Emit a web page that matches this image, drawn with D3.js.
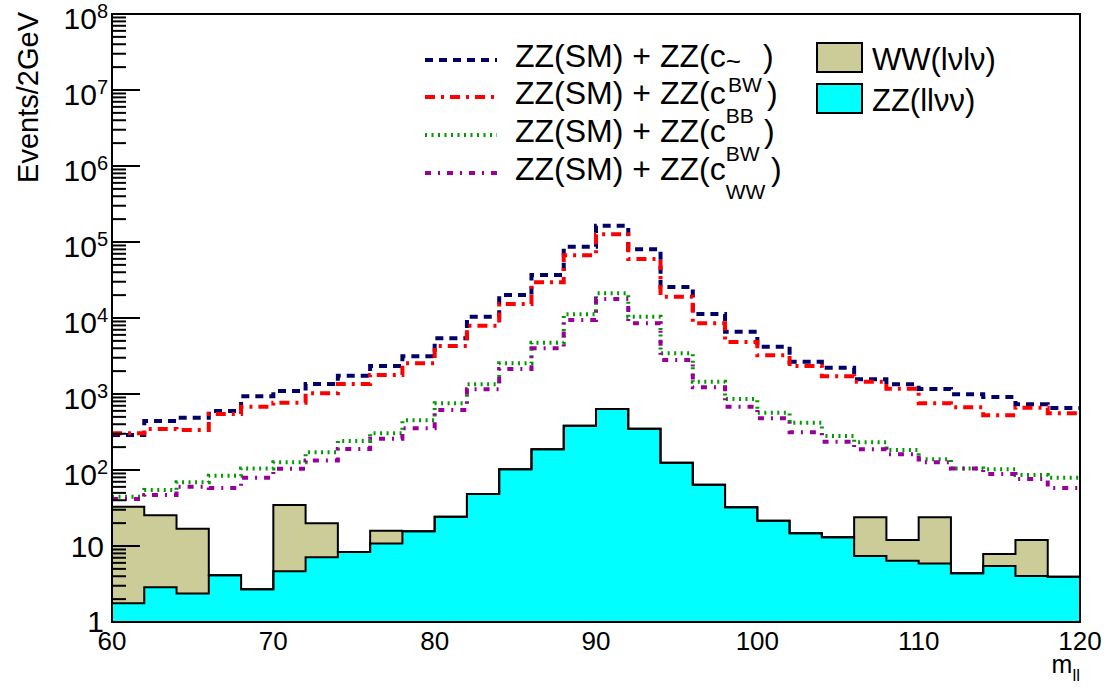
<!DOCTYPE html>
<html><head><meta charset="utf-8">
<script src="https://cdn.jsdelivr.net/npm/d3@7"></script>
<style>
body{margin:0;background:#fff;}
svg{display:block;font-family:"Liberation Sans",Arial,sans-serif;}
</style></head>
<body><svg id="c" width="1107" height="691"></svg>
<script>
// bin low edges (GeV), 2 GeV wide, 60..120
const binEdges = d3.range(60, 121, 2);
// ZZ(llvv) (bottom of stack)
const zzLLvv = [1.76,2.86,2.38,4.11,2.69,4.65,7.1,8.34,10.8,15.6,24.3,48.3,102,187,383,635,350,125,64,32.3,21.5,14.7,13.0,7.4,6.4,5.9,4.37,5.46,4.03,3.95];
// WW(lvlv) (stacked on top)
const wwLvLv = [31.1,22.5,14.5,0,0,30,12.8,0,5.1,0,0,0,0,0,0,0,0,0,0,0,0,0,0,16.5,5.6,18,0,2.4,8,0];
// ZZ(SM) + ZZ(c_BtildeW)
const sigBtW = [289,441,488,597,933,1095,1354,1742,2335,3130,5400,10400,20100,36800,86700,164000,80200,25600,11300,6600,4200,2660,2220,1560,1340,1164,991,913,731,654];
// ZZ(SM) + ZZ(c_BB)
const sigBB = [304,346,336,545,681,769,1021,1354,1778,2535,4280,7920,15300,29500,66800,126000,59700,19100,8510,4830,3230,2335,1708,1452,1175,754,668,524,661,557];
// ZZ(SM) + ZZ(c_BW)
const sigBW = [44.5,54.6,68.9,84,105,126,171,241,304,451,754,1340,2535,4730,11200,21100,10400,3430,1452,859,568,419,280,231,183,138,105,102,86,79];
// ZZ(SM) + ZZ(c_WW)
const sigWW = [41.5,46.9,60.4,58,79,104,133,189,258,353,616,1154,2130,3990,9420,17800,8510,2800,1225,681,479,313,236,187,161,126,105,88.6,76,58];
const xTicks = [60,70,80,90,100,110,120];
const yDecades = [1,10,100,1e3,1e4,1e5,1e6,1e7,1e8];
const legendSubs = ["BW","BB","BW","WW"];
const legendBoxes = ["WW(lνlν)","ZZ(llνν)"];

const svg = d3.select("#c");
const L=112,R=1080,T=14,B=622;
const x = d3.scaleLinear().domain([60,120]).range([L,R]);
const y = d3.scaleLog().domain([1,1e8]).range([B,T]);

function stepPts(vals){
  const p = vals.map((v,i)=>[binEdges[i], v]);
  p.push([binEdges[vals.length], vals[vals.length-1]]);
  return p;
}
const ymin = 1;
const cl = v => Math.max(v, ymin);
const stackTop = zzLLvv.map((v,i)=>v+wwLvLv[i]);

const area = d3.area().curve(d3.curveStepAfter)
  .x(d=>x(d[0])).y0(d=>y(cl(d[2]))).y1(d=>y(cl(d[1])));
const line = d3.line().curve(d3.curveStepAfter).x(d=>x(d[0])).y(d=>y(cl(d[1])));

const g = svg.append("g");
svg.append("clipPath").attr("id","pc").append("rect").attr("x",L).attr("y",T).attr("width",R-L).attr("height",B-T);
const pg = g.append("g").attr("clip-path","url(#pc)");

const wwPts = stepPts(stackTop).map((d,i)=>[d[0],d[1], zzLLvv[Math.min(i,zzLLvv.length-1)]]);
pg.append("path").attr("d", area(wwPts)).attr("fill","#cccc99").attr("stroke","none");
const zzPts = stepPts(zzLLvv).map(d=>[d[0],d[1],ymin]);
pg.append("path").attr("d", area(zzPts)).attr("fill","#00ffff").attr("stroke","none");
pg.append("path").attr("d", line(stepPts(stackTop))).attr("fill","none").attr("stroke","#000").attr("stroke-width",2);
pg.append("path").attr("d", line(stepPts(zzLLvv))).attr("fill","none").attr("stroke","#000").attr("stroke-width",2);

// y axis ticks
const tg = g.append("g");
yDecades.forEach((d,k)=>{
  tg.append("line").attr("x1",L).attr("x2",L+28).attr("y1",y(d)).attr("y2",y(d)).attr("stroke","#000").attr("stroke-width",2);
  if(k<yDecades.length-1){
    for(let m=2;m<=9;m++){
      const v=d*m;
      tg.append("line").attr("x1",L).attr("x2",L+14).attr("y1",y(v)).attr("y2",y(v)).attr("stroke","#000").attr("stroke-width",2);
    }
  }
});

const sigs = [
  {v:sigBtW, c:"#000066", dash:"8,6"},
  {v:sigBB, c:"#ff0000", dash:"10,6,3,6"},
  {v:sigBW, c:"#009900", dash:"2,4.5"},
  {v:sigWW, c:"#990099", dash:"6,7,2,7"}
];
sigs.forEach(s=>{
  pg.append("path").attr("d", line(stepPts(s.v))).attr("fill","none")
    .attr("stroke",s.c).attr("stroke-width",4).attr("stroke-dasharray",s.dash);
});

g.append("rect").attr("x",L).attr("y",T).attr("width",R-L).attr("height",B-T).attr("fill","none").attr("stroke","#000").attr("stroke-width",2);

// y labels
const yfs=30;
yDecades.forEach((d,k)=>{
  if(k===0) g.append("text").attr("x",104).attr("y",y(d)+10).attr("text-anchor","end").attr("font-size",yfs).text("1");
  else if(k===1) g.append("text").attr("x",104).attr("y",y(d)+11).attr("text-anchor","end").attr("font-size",yfs).text("10");
  else {
    const t = g.append("text").attr("x",108).attr("y",y(d)+15).attr("text-anchor","end").attr("font-size",yfs);
    t.append("tspan").text("10");
    t.append("tspan").attr("dy",-11).attr("font-size",20).text(String(k));
  }
});
const fs=26;
xTicks.forEach(v=>{
  g.append("text").attr("x",x(v)).attr("y",650).attr("text-anchor","middle").attr("font-size",fs).text(v);
});
const xt = g.append("text").attr("x",R).attr("y",673).attr("text-anchor","end").attr("font-size",25);
xt.append("tspan").text("m");
xt.append("tspan").attr("dy",8).attr("font-size",17).text("ll");
g.append("text").attr("transform",`translate(38,${T-2}) rotate(-90)`).attr("text-anchor","end").attr("font-size",29).text("Events/2GeV");

// legend left
const legY = [67,104,142,180];
const parenX = [763,767,764,771];
const lfs = 32;
sigs.forEach((s,i)=>{
  g.append("line").attr("x1",425).attr("x2",497).attr("y1",legY[i]-7).attr("y2",legY[i]-7)
    .attr("stroke",s.c).attr("stroke-width",4).attr("stroke-dasharray",s.dash);
  const t = g.append("text").attr("x",515).attr("y",legY[i]).attr("font-size",lfs);
  t.append("tspan").text("ZZ(SM) + ZZ(c");
  if(i===0){
    t.append("tspan").attr("dy",3).attr("font-size",26).text("~");
    t.append("tspan").attr("x",parenX[i]).attr("dy",-3).text(")");
    g.append("text").attr("x",728).attr("y",legY[i]+25).attr("font-size",21).text(legendSubs[i]);
  } else {
    t.append("tspan").attr("dy",19).attr("font-size",21).text(legendSubs[i]);
    t.append("tspan").attr("x",parenX[i]).attr("dy",-19).text(")");
  }
});
// legend right
const boxColors = ["#cccc99","#00ffff"];
legendBoxes.forEach((b,i)=>{
  g.append("rect").attr("x",817).attr("y",43+i*41).attr("width",45).attr("height",29)
    .attr("fill",boxColors[i]).attr("stroke","#000").attr("stroke-width",2);
  g.append("text").attr("x",872).attr("y",70+i*41).attr("font-size",31).text(b);
});
</script></body></html>
